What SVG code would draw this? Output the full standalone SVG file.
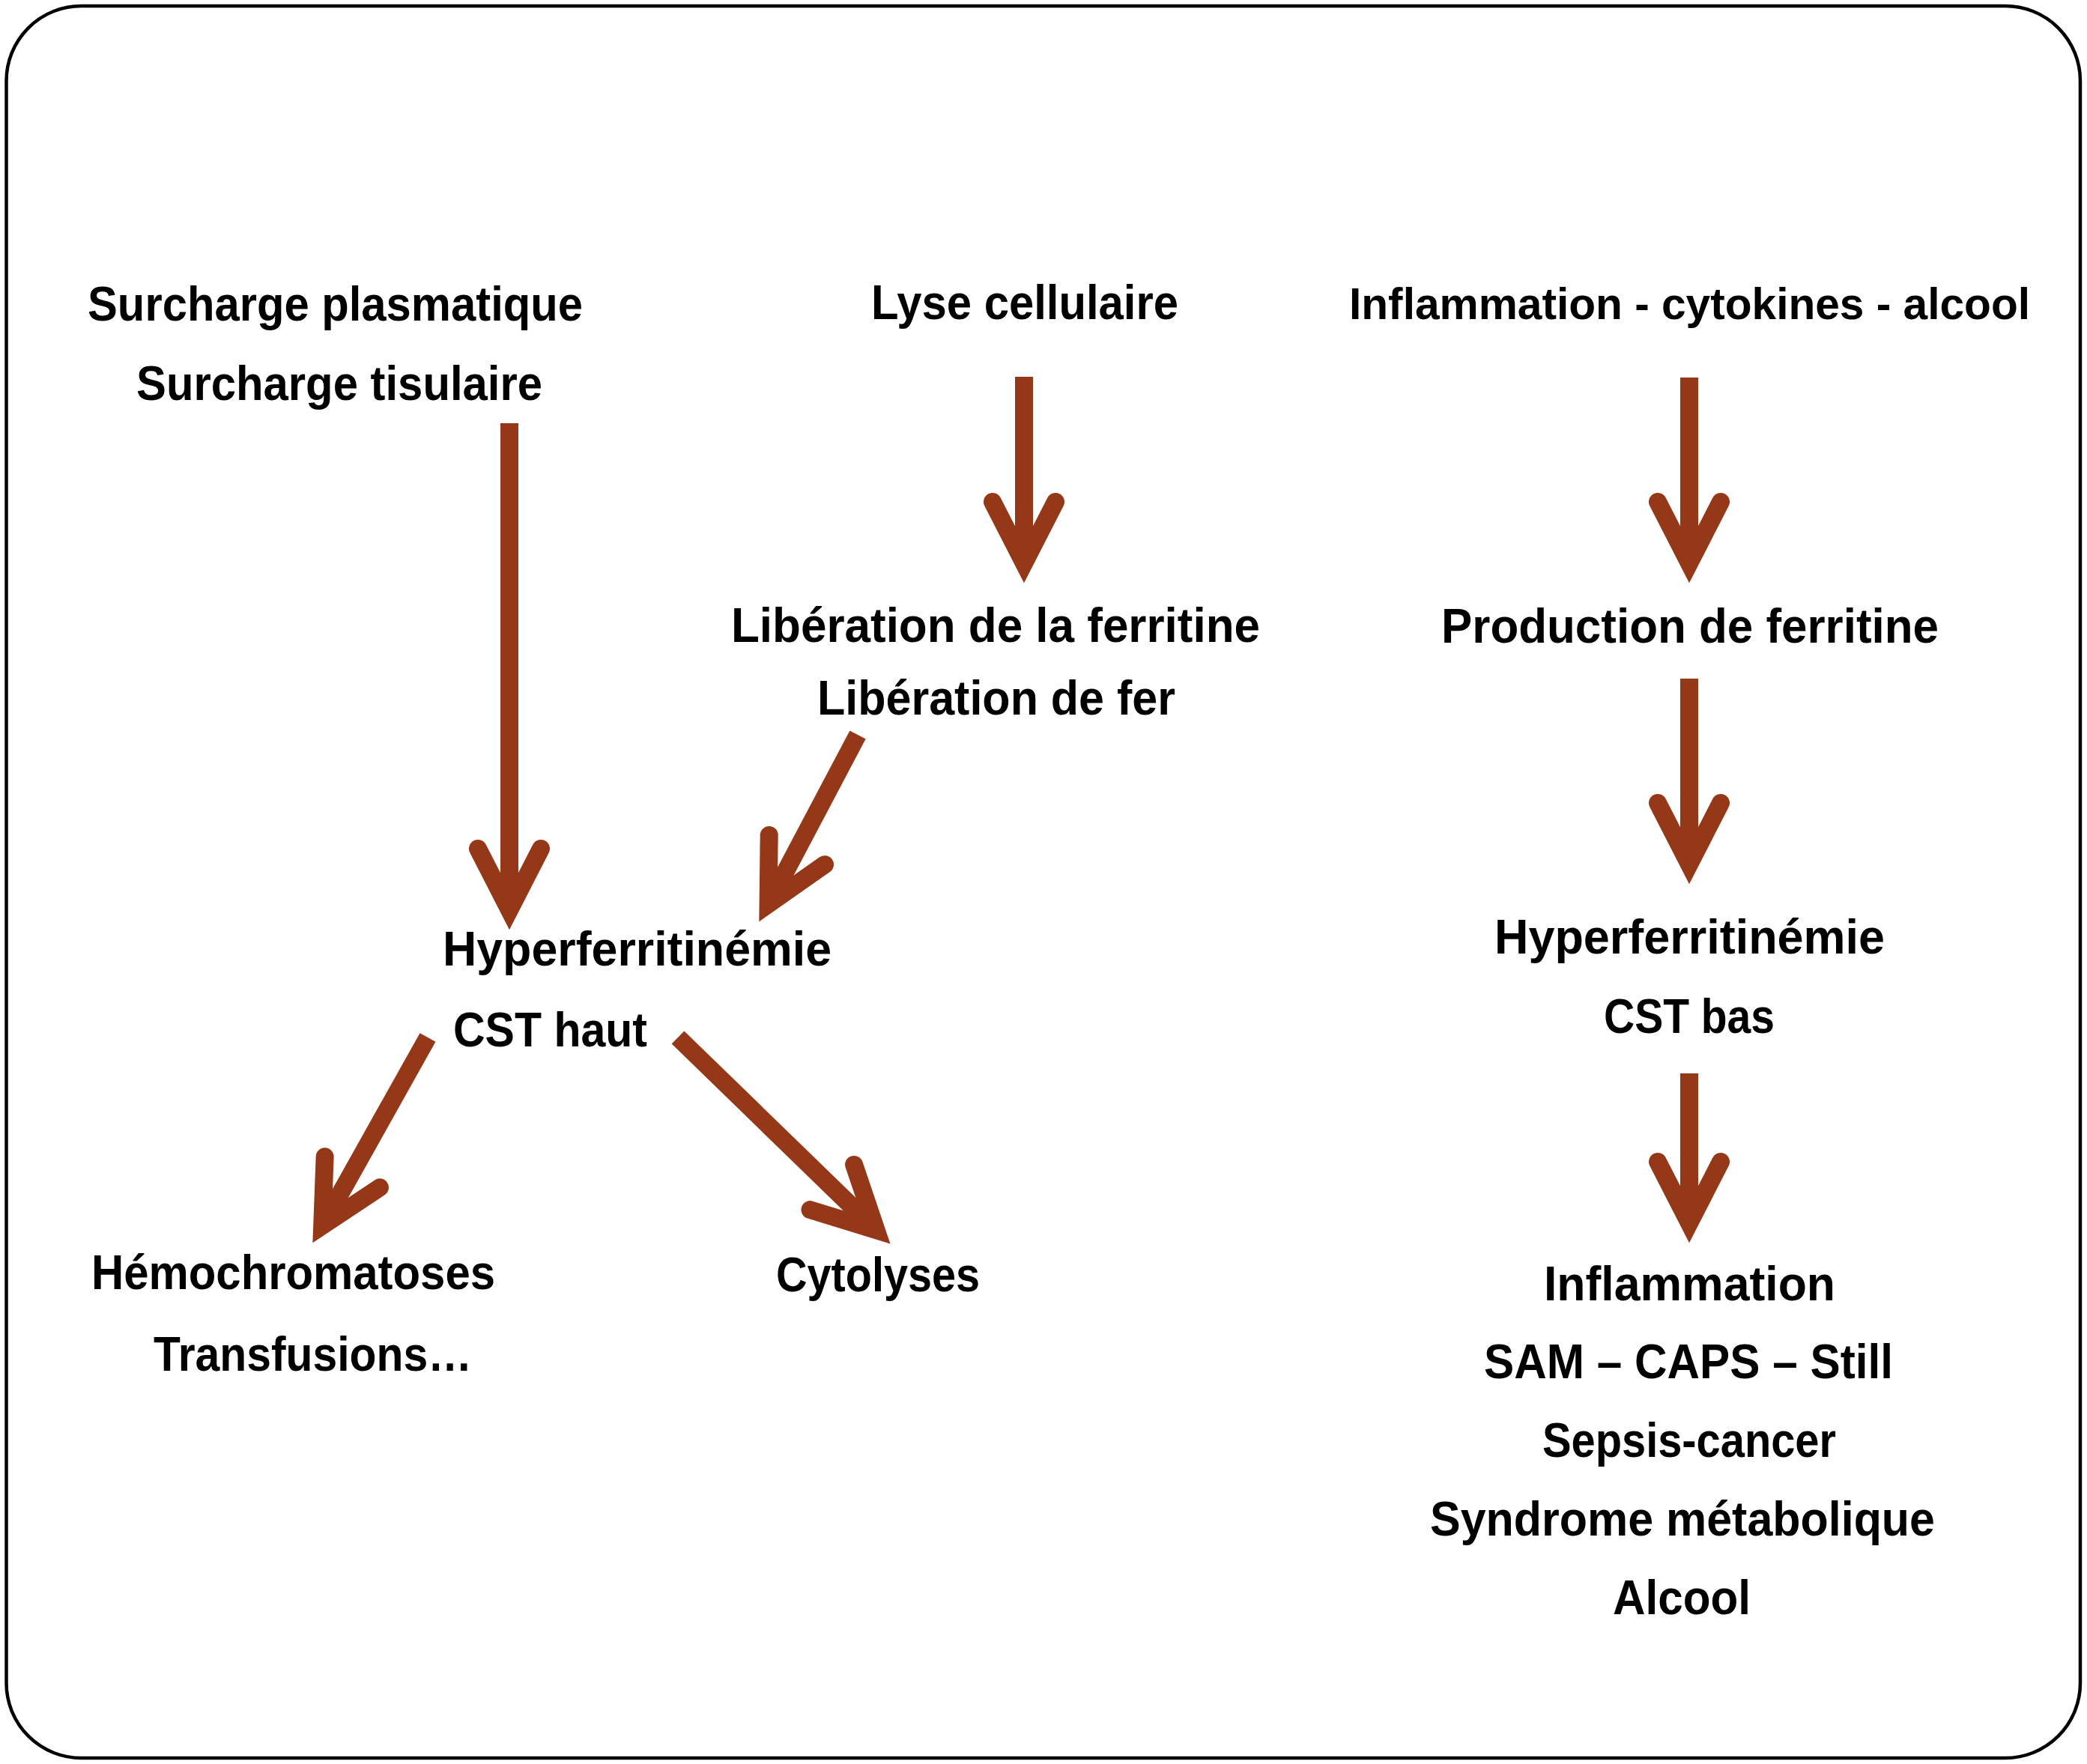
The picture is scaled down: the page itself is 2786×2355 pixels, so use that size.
<svg xmlns="http://www.w3.org/2000/svg" xmlns:xlink="http://www.w3.org/1999/xlink" width="2786" height="2355" viewBox="0 0 2786 2355">
<style>
  .t { font-family: "Liberation Sans", Arial, sans-serif; font-weight: bold; font-size: 64px; fill: #000; text-anchor: middle; }
  .shaft { stroke: #953817; stroke-width: 24; fill: none; stroke-linecap: butt; }
  .head { stroke: #953817; stroke-width: 24; fill: none; stroke-linecap: round; stroke-linejoin: miter; stroke-miterlimit: 10; }
</style>
<defs>
  <path id="head" class="head" d="M -42,-82 L 0,0 L 42,-82"/>
</defs>
<rect x="0" y="0" width="2786" height="2355" fill="#fff"/>
<rect id="frame" x="8.5" y="8" width="2768.5" height="2339" rx="100" ry="100" fill="none" stroke="#000" stroke-width="4.5"/>

<g id="connectors">
  <line class="shaft" x1="680" y1="565" x2="680" y2="1215"/>
  <use xlink:href="#head" href="#head" transform="translate(680,1215)"/>
  <line class="shaft" x1="1367" y1="503" x2="1367" y2="752"/>
  <use xlink:href="#head" href="#head" transform="translate(1367,752)"/>
  <line class="shaft" x1="2255" y1="504" x2="2255" y2="752"/>
  <use xlink:href="#head" href="#head" transform="translate(2255,752)"/>
  <line class="shaft" x1="2255" y1="906" x2="2255" y2="1154"/>
  <use xlink:href="#head" href="#head" transform="translate(2255,1154)"/>
  <line class="shaft" x1="2255" y1="1433" x2="2255" y2="1633"/>
  <use xlink:href="#head" href="#head" transform="translate(2255,1633)"/>
  <line class="shaft" x1="1145" y1="981" x2="1025.6" y2="1207.1"/>
  <use xlink:href="#head" href="#head" transform="translate(1025.6,1207.1) rotate(27.8)"/>
  <line class="shaft" x1="571" y1="1385" x2="430.2" y2="1636.4"/>
  <use xlink:href="#head" href="#head" transform="translate(430.2,1636.4) rotate(29.25)"/>
  <line class="shaft" x1="905" y1="1385" x2="1169.6" y2="1642.2"/>
  <use xlink:href="#head" href="#head" transform="translate(1169.6,1642.2) rotate(-45.8)"/>
</g>

<g id="node-surcharge">
  <text class="t" x="447.5" y="428" textLength="661" lengthAdjust="spacingAndGlyphs">Surcharge plasmatique</text>
  <text class="t" x="453" y="534" textLength="542" lengthAdjust="spacingAndGlyphs">Surcharge tisulaire</text>
</g>
<g id="node-lyse">
  <text class="t" x="1368" y="426" textLength="410" lengthAdjust="spacingAndGlyphs">Lyse cellulaire</text>
</g>
<g id="node-inflammation-top">
  <text class="t" x="2255.5" y="426" style="font-size:60px" textLength="909" lengthAdjust="spacingAndGlyphs">Inflammation - cytokines - alcool</text>
</g>
<g id="node-liberation">
  <text class="t" x="1329" y="857" textLength="706" lengthAdjust="spacingAndGlyphs">Libération de la ferritine</text>
  <text class="t" x="1330" y="954" textLength="478" lengthAdjust="spacingAndGlyphs">Libération de fer</text>
</g>
<g id="node-production">
  <text class="t" x="2256" y="858" textLength="664" lengthAdjust="spacingAndGlyphs">Production de ferritine</text>
</g>
<g id="node-hyper-haut">
  <text class="t" x="850.5" y="1289" textLength="519" lengthAdjust="spacingAndGlyphs">Hyperferritinémie</text>
  <text class="t" x="734.5" y="1397" textLength="259" lengthAdjust="spacingAndGlyphs">CST haut</text>
</g>
<g id="node-hemochromatoses">
  <text class="t" x="391.5" y="1721" textLength="539" lengthAdjust="spacingAndGlyphs">Hémochromatoses</text>
  <text class="t" x="417.5" y="1830" textLength="425" lengthAdjust="spacingAndGlyphs">Transfusions…</text>
</g>
<g id="node-cytolyses">
  <text class="t" x="1172" y="1724" textLength="272" lengthAdjust="spacingAndGlyphs">Cytolyses</text>
</g>
<g id="node-hyper-bas">
  <text class="t" x="2255.5" y="1273" textLength="521" lengthAdjust="spacingAndGlyphs">Hyperferritinémie</text>
  <text class="t" x="2255" y="1379" textLength="228" lengthAdjust="spacingAndGlyphs">CST bas</text>
</g>
<g id="node-inflammation-causes">
  <text class="t" x="2255.5" y="1736" textLength="389" lengthAdjust="spacingAndGlyphs">Inflammation</text>
  <text class="t" x="2254" y="1840" textLength="546" lengthAdjust="spacingAndGlyphs">SAM – CAPS – Still</text>
  <text class="t" x="2255" y="1945" textLength="392" lengthAdjust="spacingAndGlyphs">Sepsis-cancer</text>
  <text class="t" x="2246" y="2050" textLength="674" lengthAdjust="spacingAndGlyphs">Syndrome métabolique</text>
  <text class="t" x="2245" y="2155" textLength="184" lengthAdjust="spacingAndGlyphs">Alcool</text>
</g>
</svg>
